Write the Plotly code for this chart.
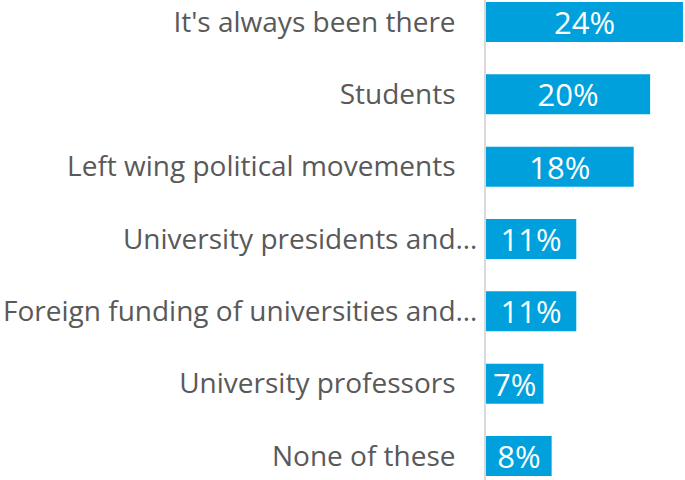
import plotly.graph_objects as go

# Survey responses, top to bottom
categories = [
    "It's always been there",
    "Students",
    "Left wing political movements",
    "University presidents and…",
    "Foreign funding of universities and…",
    "University professors",
    "None of these",
]
values = [24, 20, 18, 11, 11, 7, 8]
value_labels = [f"{v}%" for v in values]

positions = list(range(len(categories)))

# Full labels sit a little further from the axis than the truncated ones
pad = "\u00a0" * 3
tick_text = [c if c.endswith("…") else c + pad for c in categories]

fig = go.Figure(
    go.Bar(
        x=values,
        y=positions,
        orientation="h",
        width=0.553,
        marker=dict(color="#00a0dc", line=dict(width=0)),
        text=value_labels,
        textposition="inside",
        insidetextanchor="middle",
        textangle=0,
        textfont=dict(color="white", size=31, family="Open Sans"),
        hoverinfo="skip",
        cliponaxis=False,
    )
)

fig.update_layout(
    width=685,
    height=480,
    margin=dict(l=486, r=0, t=0, b=0),
    paper_bgcolor="white",
    plot_bgcolor="white",
    showlegend=False,
    uniformtext=dict(mode="show", minsize=31),
)

fig.update_xaxes(
    range=[0, 24.25],
    showgrid=False,
    zeroline=False,
    showticklabels=False,
    showline=False,
)

fig.update_yaxes(
    range=[6.332, -0.304],
    tickmode="array",
    tickvals=positions,
    ticktext=tick_text,
    showgrid=False,
    zeroline=False,
    showline=True,
    linecolor="#d9d9d9",
    linewidth=2,
    ticks="",
    ticklabelstandoff=1,
    tickfont=dict(family="Open Sans", size=28, color="#595959"),
)

fig.write_html("out.html")
